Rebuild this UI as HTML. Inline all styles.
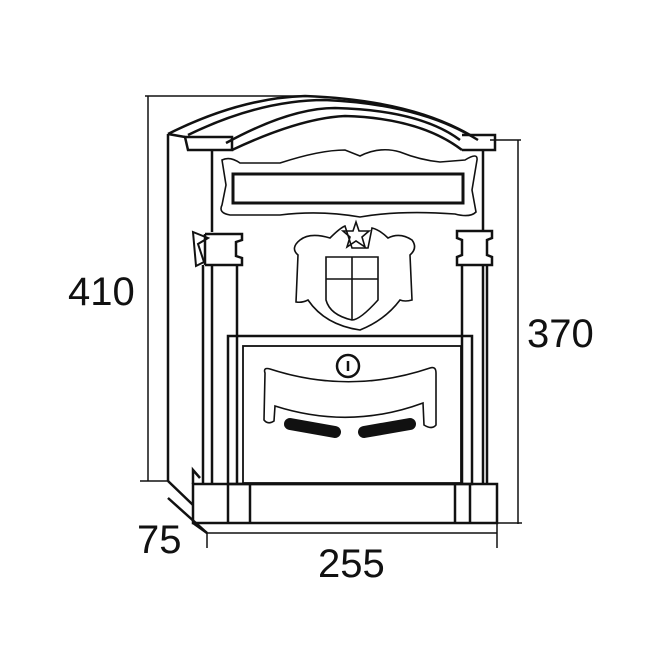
<!DOCTYPE html>
<html><head><style>body{margin:0;background:#fff}svg{display:block}text{font-family:"Liberation Sans",sans-serif;font-size:40px;fill:#111}</style></head>
<body>
<svg width="660" height="655" viewBox="0 0 660 655" xmlns="http://www.w3.org/2000/svg">
<g fill="none" stroke="#111" stroke-width="1.5">
<line x1="145" y1="96" x2="305" y2="96"/>
<line x1="148" y1="96" x2="148" y2="481"/>
<line x1="140" y1="481" x2="168" y2="481"/>
<line x1="490" y1="140" x2="521" y2="140"/>
<line x1="518" y1="140" x2="518" y2="524"/>
<line x1="497" y1="523" x2="522" y2="523"/>
<line x1="168" y1="498" x2="207" y2="533"/>
<line x1="207" y1="533" x2="497" y2="533"/>
<line x1="207" y1="533" x2="207" y2="548"/>
<line x1="497" y1="523" x2="497" y2="548"/>
</g>
<g fill="none" stroke="#111" stroke-width="2.5">
<path d="M168 134 Q240 98 305 96 Q410 100 470 135"/>
<path d="M188 135 Q260 100 325 100 Q420 104 478 140"/>
<path d="M226 143 Q290 108 335 108 Q420 110 460 140"/>
<path d="M232 150 Q300 118 345 116 Q420 118 462 150"/>
<path d="M185 137 L232 137 L232 150 L188 150 Z"/>
<path d="M462 135 L495 135 L495 150 L462 150"/>
<line x1="168" y1="134" x2="168" y2="481"/>
<line x1="168" y1="134" x2="185" y2="137"/>
<line x1="212" y1="150" x2="212" y2="232"/>
<line x1="483" y1="150" x2="483" y2="230"/>
<rect x="233" y="174" width="230" height="29" stroke-width="3"/>
</g>
<g fill="none" stroke="#111" stroke-width="1.6">
<path d="M222 160 Q230 156 240 163 L280 163 Q320 150 345 150 L360 156 Q380 146 400 152 Q420 160 440 162 L465 160 Q478 152 477 160 L472 190 L476 212 Q470 218 455 214 Q400 210 360 217 Q320 210 280 215 L230 215 Q218 213 222 205 L226 185 Z"/>
<path d="M300 240 Q310 232 330 238 Q340 228 345 226 L352 248 L368 248 L372 228 Q380 230 388 238 Q400 232 412 240 Q418 248 410 255 L412 300 Q405 302 400 300 Q385 320 360 330 Q325 325 308 300 Q302 303 296 302 L298 255 Q290 248 300 240 Z"/>
<path d="M326 257 L378 257 L378 300 Q360 320 352 320 Q330 315 326 300 Z"/>
<line x1="352" y1="257" x2="352" y2="320"/>
<line x1="326" y1="279" x2="378" y2="279"/>
<path d="M356 222 L359 231 L369 231 L362 237 L365 247 L356 241 L347 247 L350 237 L343 231 L353 231 Z"/>
</g>
<g fill="none" stroke="#111" stroke-width="2.5">
<path d="M193 232 L208 238 L198 244 L204 262 L196 266 Z" stroke-width="2"/>
<path d="M205 234 L242 234 L242 240 L236 242 L236 256 L242 258 L242 265 L205 265"/>
<line x1="205" y1="234" x2="205" y2="265"/>
<path d="M457 231 L492 231 L492 238 L487 240 L487 255 L492 257 L492 265 L457 265 L457 257 L462 255 L462 240 L457 238 Z"/>
<line x1="203" y1="265" x2="203" y2="483"/>
<line x1="212" y1="265" x2="212" y2="483"/>
<line x1="237" y1="265" x2="237" y2="483"/>
<line x1="462" y1="265" x2="462" y2="483"/>
<line x1="483" y1="265" x2="483" y2="483"/>
<line x1="487" y1="265" x2="487" y2="483"/>
<rect x="228" y="336" width="244" height="148"/>
<rect x="243" y="346" width="218" height="137" stroke-width="1.8"/>
<circle cx="348" cy="366" r="11"/>
<line x1="348" y1="361" x2="348" y2="371"/>
<rect x="193" y="484" width="304" height="39"/>
<line x1="228" y1="484" x2="228" y2="523"/>
<line x1="250" y1="484" x2="250" y2="523"/>
<line x1="455" y1="484" x2="455" y2="523"/>
<line x1="470" y1="484" x2="470" y2="523"/>
<path d="M193 484 L193 470 L200 478"/>
<line x1="168" y1="481" x2="193" y2="505"/>
<line x1="168" y1="498" x2="207" y2="533"/>
<line x1="193" y1="523" x2="207" y2="533"/>
</g>
<path d="M265 373 Q263 367 270 369 Q350 395 430 368 Q436 366 436 373 L436 425 Q432 430 424 425 L423 403 Q350 430 275 406 L274 421 Q268 425 264 420 Z" fill="none" stroke="#111" stroke-width="1.6"/>
<line x1="290" y1="424" x2="335" y2="432" stroke="#111" stroke-width="12" stroke-linecap="round"/>
<line x1="364" y1="432" x2="410" y2="424" stroke="#111" stroke-width="12" stroke-linecap="round"/>
<text x="68" y="305">410</text>
<text x="527" y="347">370</text>
<text x="137" y="553">75</text>
<text x="318" y="577">255</text>
</svg>
</body></html>
